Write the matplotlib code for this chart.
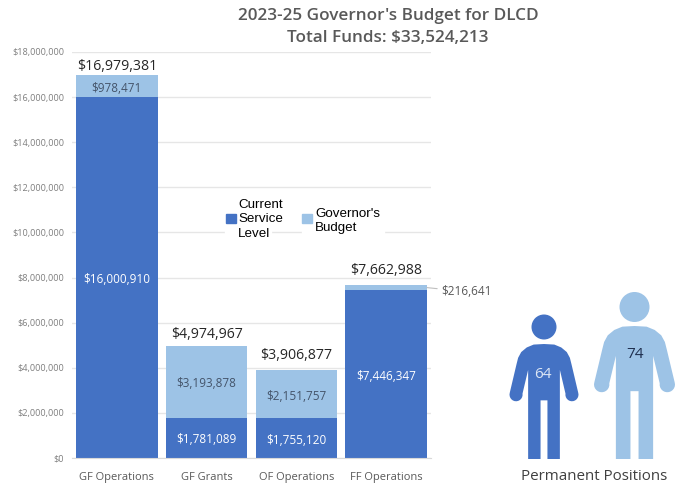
import numpy as np
import matplotlib
matplotlib.use('Agg')
import matplotlib.pyplot as plt
from matplotlib.patches import Circle, Polygon, Rectangle

plt.rcParams['font.family'] = ['Open Sans', 'DejaVu Sans']

W, H = 679, 487

# data
categories = ['GF Operations', 'GF Grants', 'OF Operations', 'FF Operations']
csl = [16000910, 1781089, 1755120, 7446347]
gov = [978471, 3193878, 2151757, 216641]
totals = [16979381, 4974967, 3906877, 7662988]
positions = [64, 74]

BLUE = '#4472C4'
LIGHT = '#9DC3E6'

fig = plt.figure(figsize=(W / 100, H / 100), dpi=100)

# main chart, axes placed in pixels
left, right, top, bottom = 72, 431, 52, 458
ax = fig.add_axes([left / W, 1 - bottom / H, (right - left) / W, (bottom - top) / H])
x = np.arange(len(categories))
ax.bar(x, csl, width=0.91, color=BLUE, zorder=2)
ax.bar(x, gov, width=0.91, bottom=csl, color=LIGHT, zorder=2)

ax.set_xlim(-0.5, 3.5)
ax.set_ylim(0, 18000000)
ax.set_yticks(np.arange(0, 18000001, 2000000))
ax.yaxis.set_major_formatter(lambda v, p: f'${v:,.0f}')
ax.set_xticks(x)
ax.set_xticklabels(categories)
ax.tick_params(axis='y', length=0, labelsize=6.6, labelcolor='#7f7f7f', pad=5.5)
ax.tick_params(axis='x', length=0, labelsize=8, labelcolor='#595959', pad=10)
ax.grid(True, axis='y', color='#e6e6e6', linewidth=1, zorder=0)
ax.set_axisbelow(True)
for s in ax.spines.values():
    s.set_visible(False)
ax.spines['bottom'].set_visible(True)
ax.spines['bottom'].set_color('#d9d9d9')

# labels on the bars, gap above the stack differs a bit per bar
total_gap = [1, 3, 5, 5]
for i in range(len(categories)):
    ax.annotate(f'${totals[i]:,}', (i, totals[i]), xytext=(0, total_gap[i]),
                textcoords='offset points', ha='center', va='bottom',
                fontsize=10.2, color='#262626', zorder=4)
    ax.annotate(f'${csl[i]:,}', (i, csl[i] / 2), xytext=(0, -1.5),
                textcoords='offset points', ha='center', va='center',
                fontsize=8.5, color='white', zorder=4)
    if i < 3:
        ax.annotate(f'${gov[i]:,}', (i, csl[i] + gov[i] / 2), xytext=(0, -1.5),
                    textcoords='offset points', ha='center', va='center',
                    fontsize=8.5, color='#44546A', zorder=4)

# small segment of the last bar gets a leader line
ax.annotate(f'${gov[3]:,}', xy=(3.455, csl[3] + gov[3] / 2), xytext=(3.615, 7370000),
            textcoords='data', ha='left', va='center', fontsize=8.5, color='#595959',
            annotation_clip=False,
            arrowprops=dict(arrowstyle='-', color='#bfbfbf', linewidth=0.8, shrinkA=1, shrinkB=0))

# overlay in pixel coordinates for the title, legend and the people
ov = fig.add_axes([0, 0, 1, 1], zorder=5)
ov.set_xlim(0, W)
ov.set_ylim(H, 0)
ov.axis('off')
ov.patch.set_alpha(0)

ov.text(388, 16, "2023-25 Governor's Budget for DLCD", ha='center', va='center',
        fontsize=12.3, fontweight='semibold', color='#595959')
ov.text(388, 38, 'Total Funds: $33,524,213', ha='center', va='center',
        fontsize=12.3, fontweight='semibold', color='#595959')

# legend, white boxes cut the gridline behind it
ov.add_patch(Rectangle((225, 226), 46, 12, color='white', zorder=1))
ov.add_patch(Rectangle((302, 226), 82, 12, color='white', zorder=1))
ov.add_patch(Rectangle((226, 214), 10, 9, color=BLUE, zorder=2))
ov.add_patch(Rectangle((302, 214), 10, 9, color=LIGHT, zorder=2))
ov.text(238, 219.5, 'Current\nService\nLevel', ha='left', va='center', fontsize=9.6,
        family=['Liberation Sans'], color='black', linespacing=1.24, zorder=3)
ov.text(315, 221, "Governor's\nBudget", ha='left', va='center', fontsize=9.6,
        family=['Liberation Sans'], color='black', linespacing=1.2, zorder=3)


def person(cx, head_y, head_r, half_w, y_top, y_bot, color):
    # outline on a unit figure: u across, v down from the shoulders
    t = np.linspace(-0.1 * np.pi, 1.05 * np.pi, 14)
    hand = np.column_stack([0.81 + 0.19 * np.cos(t), 0.44 + 0.058 * np.sin(t)])
    side = np.vstack([
        [[0, 0], [0.3, 0.005], [0.5, 0.03], [0.66, 0.07], [0.75, 0.12], [0.8, 0.18]],
        hand,
        [[0.46, 0.225], [0.46, 1.0], [0.10, 1.0], [0.10, 0.49]],
    ])
    mirror = side[1:][::-1] * [-1, 1]
    outline = np.vstack([side, mirror])
    pts = np.column_stack([cx + outline[:, 0] * half_w,
                           y_top + outline[:, 1] * (y_bot - y_top)])
    ov.add_patch(Polygon(pts, closed=True, facecolor=color, edgecolor='none'))
    ov.add_patch(Circle((cx, head_y), head_r, facecolor=color, edgecolor='none'))


person(544, 327, 12.5, 34.5, 344, 459, BLUE)
person(634.5, 307, 15, 40.5, 326, 459, LIGHT)
ov.text(543, 374, str(positions[0]), ha='center', va='center', fontsize=11, color='#dce6f5')
ov.text(635, 354, str(positions[1]), ha='center', va='center', fontsize=11, color='#1f2f4f')
ov.text(594.5, 476, 'Permanent Positions', ha='center', va='center', fontsize=10.9, color='#404040')

fig.savefig('out.png', dpi=100)
